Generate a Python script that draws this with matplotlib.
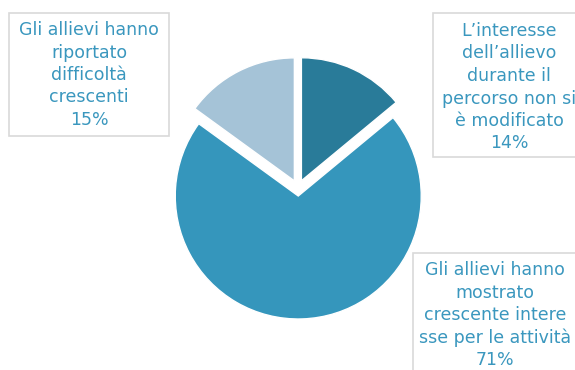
import matplotlib
matplotlib.use("Agg")
import matplotlib.pyplot as plt
from matplotlib.patches import Rectangle

# data
categories = [
    "L\u2019interesse\ndell\u2019allievo\ndurante il\npercorso non si\n\u00e8 modificato",
    "Gli allievi hanno\nmostrato\ncrescente intere\nsse per le attivit\u00e0",
    "Gli allievi hanno\nriportato\ndifficolt\u00e0\ncrescenti",
]
values = [14, 71, 15]
colors = ["#297B99", "#3596BC", "#A5C3D7"]

W, H = 575, 370
fig = plt.figure(figsize=(W / 100, H / 100), dpi=100)
fig.patch.set_facecolor("white")

# pie axes (pixel geometry)
R = 123.0
lim = 1.2
size = 2 * R * lim
cx, cy = 298.0, 188.0
ax = fig.add_axes([(cx - size / 2) / W, (H - cy - size / 2) / H, size / W, size / H])
ax.pie(values, colors=colors, startangle=90, counterclock=False,
       explode=[0.065] * len(values), radius=1,
       wedgeprops=dict(edgecolor="white", linewidth=1))
ax.set_xlim(-lim, lim)
ax.set_ylim(-lim, lim)
ax.set_aspect("equal")
ax.axis("off")

# label boxes: (left, top, right, bottom) in px, text center x, first line y
boxes = [
    (433, 13, 590, 157, 509, 31),
    (413, 253, 580, 400, 495, 270),
    (9, 13, 169, 136, 89, 30),
]
text_color = "#3A97BE"
line_h = 22.5
for (l, t, r, b, tx, ty), cat, v in zip(boxes, categories, values):
    fig.patches.append(Rectangle((l / W, 1 - b / H), (r - l) / W, (b - t) / H,
                                 transform=fig.transFigure, facecolor="white",
                                 edgecolor="#D9D9D9", linewidth=1.2, zorder=1))
    lines = cat.split("\n") + [f"{v}%"]
    for i, ln in enumerate(lines):
        fig.text(tx / W, 1 - (ty + i * line_h) / H, ln, ha="center", va="center",
                 color=text_color, fontsize=12.5, family="DejaVu Sans", zorder=2)

fig.savefig("out.png", dpi=100, facecolor="white")
